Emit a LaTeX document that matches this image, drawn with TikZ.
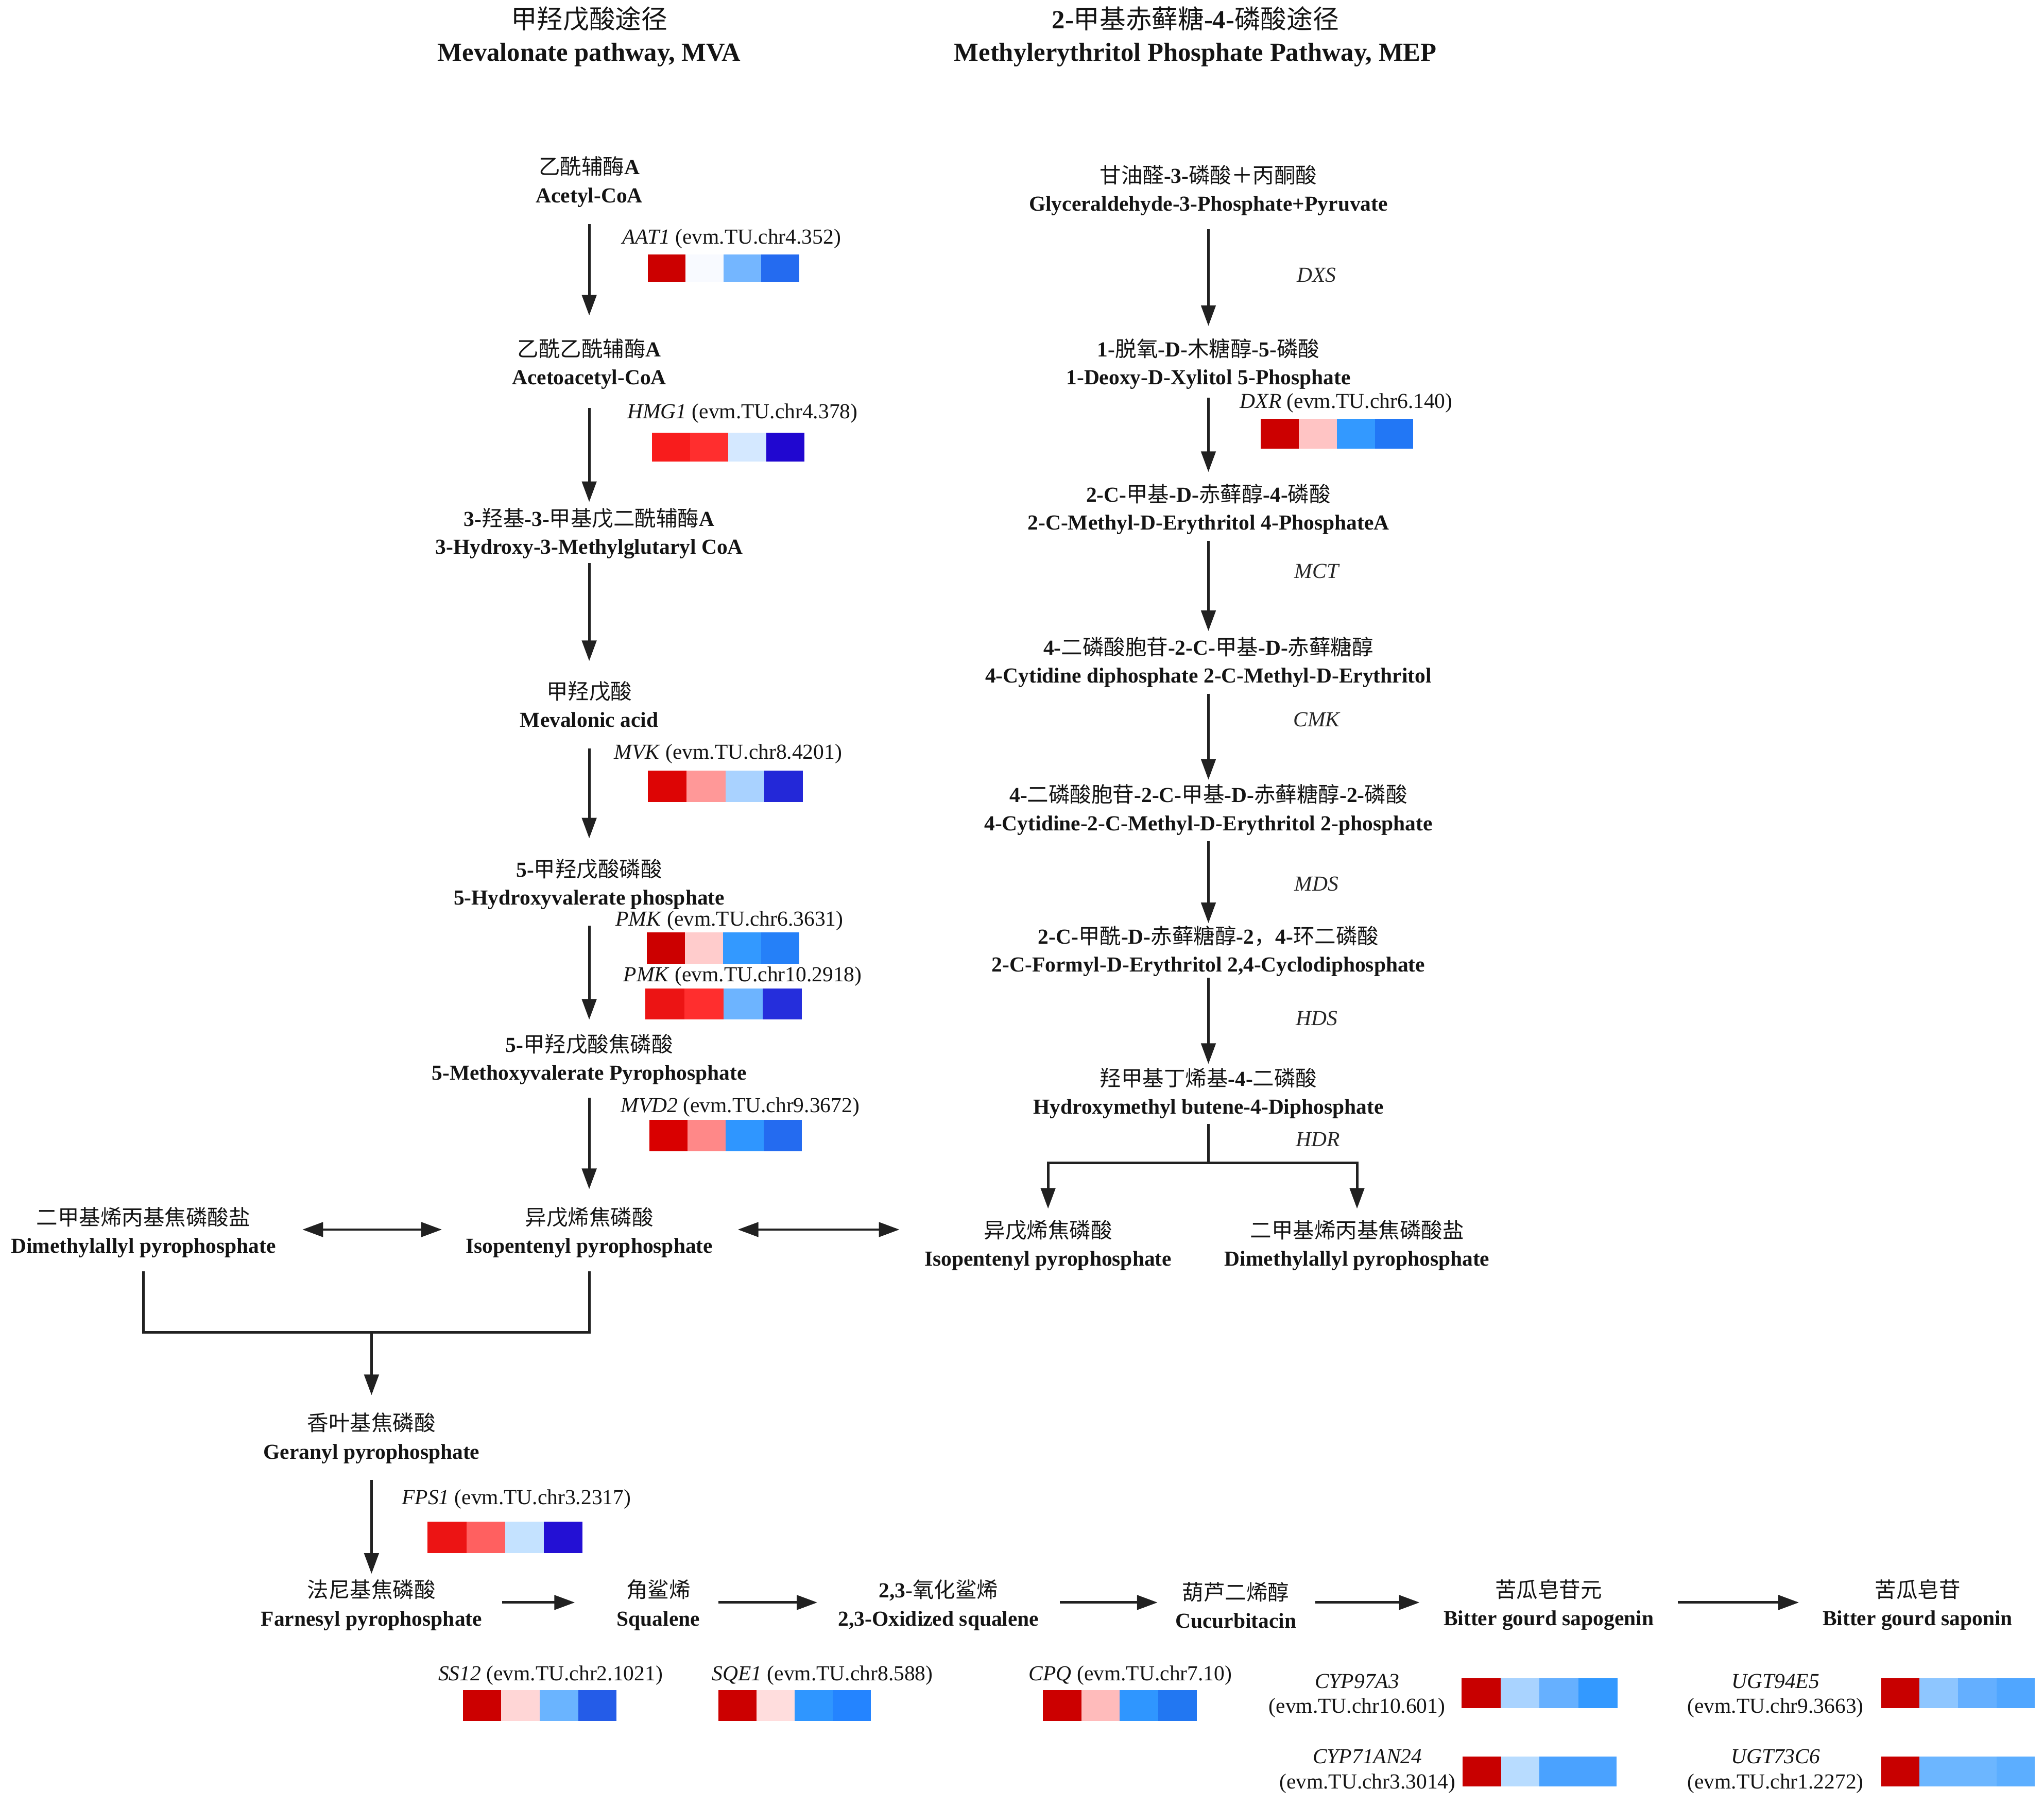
\documentclass[tikz,border=0pt]{standalone}
\usepackage{fontspec}
\setmainfont{Liberation Serif}
\newfontfamily\cjk{Noto Sans CJK SC}
\usetikzlibrary{arrows.meta,calc}
\newcommand\zh[1]{{\cjk\mdseries #1}}
\newcommand\heatmap[8]{%
  \definecolor{hmA}{HTML}{#5}\definecolor{hmB}{HTML}{#6}%
  \definecolor{hmC}{HTML}{#7}\definecolor{hmD}{HTML}{#8}%
  \pgfmathsetmacro\hmw{(#3-#1)/4}%
  \fill[hmA] (#1,#2) rectangle ({#1+\hmw},#4);
  \fill[hmB] ({#1+\hmw},#2) rectangle ({#1+2*\hmw},#4);
  \fill[hmC] ({#1+2*\hmw},#2) rectangle ({#1+3*\hmw},#4);
  \fill[hmD] ({#1+3*\hmw},#2) rectangle (#3,#4);
}
\tikzset{
  chem/.style={align=center, inner sep=0pt, text=black!92, font=\fontsize{11.8}{15.4}\selectfont\bfseries},
  ttl/.style={align=center, inner sep=0pt, text=black!92, font=\fontsize{14.4}{18}\selectfont\bfseries},
  gene/.style={anchor=west, inner sep=0pt, text=black!92, font=\fontsize{11.8}{14}\selectfont},
  genetwo/.style={align=center, inner sep=0pt, text=black!92, font=\fontsize{11.8}{13.7}\selectfont},
  enz/.style={inner sep=0pt, text=black!85, font=\fontsize{11.8}{14}\selectfont\itshape},
  conn/.style={line width=1.4pt, draw=black!87},
  arr/.style={conn, -{Triangle[length=0.40cm,width=0.28cm]}},
  darr/.style={conn, {Triangle[length=0.40cm,width=0.28cm]}-{Triangle[length=0.40cm,width=0.28cm]}},
}
\begin{document}
\begin{tikzpicture}[x=0.0253cm, y=-0.0253cm]
\useasboundingbox (0,0) rectangle (1568,1385);

% titles
\node[ttl] (t1) at (452,28) {\zh{甲羟戊酸途径}\\Mevalonate pathway, MVA};
\node[ttl] (t2) at (917,28) {2-\zh{甲基赤藓糖}-4-\zh{磷酸途径}\\Methylerythritol Phosphate Pathway, MEP};

% MVA pathway
\node[chem] (acet) at (452,139.5) {\zh{乙酰辅酶}A\\Acetyl-CoA};
\node[chem] (acac) at (452,279) {\zh{乙酰乙酰辅酶}A\\Acetoacetyl-CoA};
\node[chem] (hmg)  at (452,409) {3-\zh{羟基}-3-\zh{甲基戊二酰辅酶}A\\3-Hydroxy-3-Methylglutaryl CoA};
\node[chem] (mev)  at (452,540) {\zh{甲羟戊酸}\\Mevalonic acid};
\node[chem] (hvp)  at (452,678) {5-\zh{甲羟戊酸磷酸}\\5-Hydroxyvalerate phosphate};
\node[chem] (mvpp) at (452,812.5) {5-\zh{甲羟戊酸焦磷酸}\\5-Methoxyvalerate Pyrophosphate};
\node[chem] (ip1)  at (452,945) {\zh{异戊烯焦磷酸}\\Isopentenyl pyrophosphate};
\node[chem] (dm1)  at (110,945) {\zh{二甲基烯丙基焦磷酸盐}\\Dimethylallyl pyrophosphate};
\node[chem] (ger)  at (285,1103) {\zh{香叶基焦磷酸}\\Geranyl pyrophosphate};
\node[chem] (far)  at (285,1231) {\zh{法尼基焦磷酸}\\Farnesyl pyrophosphate};
\node[chem] (squ)  at (505,1231) {\zh{角鲨烯}\\Squalene};
\node[chem] (oxs)  at (720,1231) {2,3-\zh{氧化鲨烯}\\2,3-Oxidized squalene};
\node[chem] (cuc)  at (948,1231) {\zh{葫芦二烯醇}\\Cucurbitacin};
\node[chem] (sap)  at (1188,1231) {\zh{苦瓜皂苷元}\\Bitter gourd sapogenin};
\node[chem] (sapn) at (1471,1231) {\zh{苦瓜皂苷}\\Bitter gourd saponin};

% MEP pathway
\node[chem] (gly)  at (927,146) {\zh{甘油醛}-3-\zh{磷酸＋丙酮酸}\\Glyceraldehyde-3-Phosphate+Pyruvate};
\node[chem] (dxp)  at (927,279) {1-\zh{脱氧}-D-\zh{木糖醇}-5-\zh{磷酸}\\1-Deoxy-D-Xylitol 5-Phosphate};
\node[chem] (mep)  at (927,390.5) {2-C-\zh{甲基}-D-\zh{赤藓醇}-4-\zh{磷酸}\\2-C-Methyl-D-Erythritol 4-PhosphateA};
\node[chem] (cdp)  at (927,508) {4-\zh{二磷酸胞苷}-2-C-\zh{甲基}-D-\zh{赤藓糖醇}\\4-Cytidine diphosphate 2-C-Methyl-D-Erythritol};
\node[chem] (cdpp) at (927,621) {4-\zh{二磷酸胞苷}-2-C-\zh{甲基}-D-\zh{赤藓糖醇}-2-\zh{磷酸}\\4-Cytidine-2-C-Methyl-D-Erythritol 2-phosphate};
\node[chem] (mec)  at (927,729.5) {2-C-\zh{甲酰}-D-\zh{赤藓糖醇}-2\zh{，}4-\zh{环二磷酸}\\2-C-Formyl-D-Erythritol 2,4-Cyclodiphosphate};
\node[chem] (hyd)  at (927,838.5) {\zh{羟甲基丁烯基}-4-\zh{二磷酸}\\Hydroxymethyl butene-4-Diphosphate};
\node[chem] (ip2)  at (804,955) {\zh{异戊烯焦磷酸}\\Isopentenyl pyrophosphate};
\node[chem] (dm2)  at (1041,955) {\zh{二甲基烯丙基焦磷酸盐}\\Dimethylallyl pyrophosphate};

% enzyme labels (MEP)
\node[enz] (dxs) at (1010,211) {DXS};
\node[enz] (mct) at (1010,438) {MCT};
\node[enz] (cmk) at (1010,552) {CMK};
\node[enz] (mds) at (1010,678) {MDS};
\node[enz] (hds) at (1010,781) {HDS};
\node[enz] (hdr) at (1011,874) {HDR};

% gene labels
\node[gene] (gAAT) at (477,183) {\textit{AAT1} (evm.TU.chr4.352)};
\node[gene] (gHMG) at (481,317) {\textit{HMG1} (evm.TU.chr4.378)};
\node[gene] (gMVK) at (471,578) {\textit{MVK} (evm.TU.chr8.4201)};
\node[gene] (gPMKa) at (472,706) {\textit{PMK} (evm.TU.chr6.3631)};
\node[gene] (gPMKb) at (478,749) {\textit{PMK} (evm.TU.chr10.2918)};
\node[gene] (gMVD) at (476,849) {\textit{MVD2} (evm.TU.chr9.3672)};
\node[gene] (gDXR) at (951,309) {\textit{DXR} (evm.TU.chr6.140)};
\node[gene] (gFPS) at (308,1150) {\textit{FPS1} (evm.TU.chr3.2317)};
\node[gene] (gSS)  at (336,1285) {\textit{SS12} (evm.TU.chr2.1021)};
\node[gene] (gSQE) at (546,1285) {\textit{SQE1} (evm.TU.chr8.588)};
\node[gene] (gCPQ) at (789,1285) {\textit{CPQ} (evm.TU.chr7.10)};
\node[genetwo] (gCYPa) at (1041,1300.5) {\textit{CYP97A3}\\(evm.TU.chr10.601)};
\node[genetwo] (gCYPb) at (1049,1358.5) {\textit{CYP71AN24}\\(evm.TU.chr3.3014)};
\node[genetwo] (gUGTa) at (1362,1300.5) {\textit{UGT94E5}\\(evm.TU.chr9.3663)};
\node[genetwo] (gUGTb) at (1362,1358.5) {\textit{UGT73C6}\\(evm.TU.chr1.2272)};

% heatmaps
\heatmap{497}{195}{613}{216}{CC0000}{F8FAFF}{74B6FF}{246BF0}
\heatmap{500}{332}{617}{354}{F81C1C}{FF2E2E}{D4E8FF}{2007D0}
\heatmap{497}{591}{616}{615}{DD0505}{FF9898}{A9D2FF}{2328D8}
\heatmap{496}{715}{613}{739}{CC0000}{FFCCCC}{3399FF}{2580F8}
\heatmap{495}{758}{615}{782}{EC1414}{FF2E2E}{6DB4FF}{252EDC}
\heatmap{498}{859}{615}{883}{D90000}{FF8888}{2F96FF}{246BF0}
\heatmap{967}{321}{1084}{344}{CC0000}{FFC4C4}{3399FF}{2277F5}
\heatmap{328}{1167}{447}{1191}{EC1414}{FF6060}{C4E2FF}{2310D4}
\heatmap{355}{1296}{473}{1320}{CC0000}{FFD6D6}{6AB4FF}{245CE8}
\heatmap{551}{1296}{668}{1320}{CC0000}{FFDDDD}{2F96FF}{2484FF}
\heatmap{800}{1296}{918}{1320}{CC0000}{FFBBBB}{2F96FF}{2277F2}
\heatmap{1121}{1287}{1241}{1310}{C80000}{A9D3FF}{66B0FF}{3399FF}
\heatmap{1122}{1347}{1240}{1370}{C80000}{B8DCFF}{4AA2FF}{4AA2FF}
\heatmap{1443}{1287}{1561}{1310}{C80000}{8EC6FF}{64AFFF}{50A6FF}
\heatmap{1443}{1347}{1561}{1370}{C80000}{6CB6FF}{6CB6FF}{5CAEFF}

% MVA arrows
\draw[arr] ($(acet)+(0,32.5)$) -- ($(acac)+(0,-37)$);
\draw[arr] ($(acac)+(0,34)$) -- ($(hmg)+(0,-24)$);
\draw[arr] ($(hmg)+(0,23)$) -- ($(mev)+(0,-33)$);
\draw[arr] ($(mev)+(0,34)$) -- ($(hvp)+(0,-35)$);
\draw[arr] ($(hvp)+(0,32)$) -- ($(mvpp)+(0,-30.5)$);
\draw[arr] ($(mvpp)+(0,29.5)$) -- ($(ip1)+(0,-33)$);
\draw[darr] ($(dm1)+(122,-2)$) -- ($(ip1)+(-113,-2)$);
\draw[darr] ($(ip1)+(114,-2)$) -- ($(ip2)+(-114,-12)$);
\draw[conn] ($(dm1)+(0,30)$) |- ($(ip1)+(0,77)$) -- ($(ip1)+(0,30)$);
\draw[arr] ($(ger)+(0,-81)$) -- ($(ger)+(0,-33)$);
\draw[arr] ($(ger)+(0,32)$) -- ($(far)+(0,-24)$);

% bottom row arrows
\draw[arr] ($(far)+(100,-2)$) -- ($(squ)+(-64,-2)$);
\draw[arr] ($(squ)+(46,-2)$) -- ($(oxs)+(-93,-2)$);
\draw[arr] ($(oxs)+(93,-2)$) -- ($(cuc)+(-60,-2)$);
\draw[arr] ($(cuc)+(61,-2)$) -- ($(sap)+(-99,-2)$);
\draw[arr] ($(sap)+(99,-2)$) -- ($(sapn)+(-91,-2)$);

% MEP arrows
\draw[arr] ($(gly)+(0,30)$) -- ($(dxp)+(0,-29)$);
\draw[arr] ($(dxp)+(0,26)$) -- ($(mep)+(0,-28.5)$);
\draw[arr] ($(mep)+(0,24.5)$) -- ($(cdp)+(0,-24)$);
\draw[arr] ($(cdp)+(0,24)$) -- ($(cdpp)+(0,-23)$);
\draw[arr] ($(cdpp)+(0,24)$) -- ($(mec)+(0,-21.5)$);
\draw[arr] ($(mec)+(0,20.5)$) -- ($(hyd)+(0,-22.5)$);
\draw[conn] ($(hyd)+(0,23.5)$) -- ($(hyd)+(0,53.5)$);
\draw[arr] ($(hyd)+(0,53.5)$) -| ($(ip2)+(0,-28)$);
\draw[arr] ($(hyd)+(0,53.5)$) -| ($(dm2)+(0,-28)$);
\end{tikzpicture}
\end{document}
